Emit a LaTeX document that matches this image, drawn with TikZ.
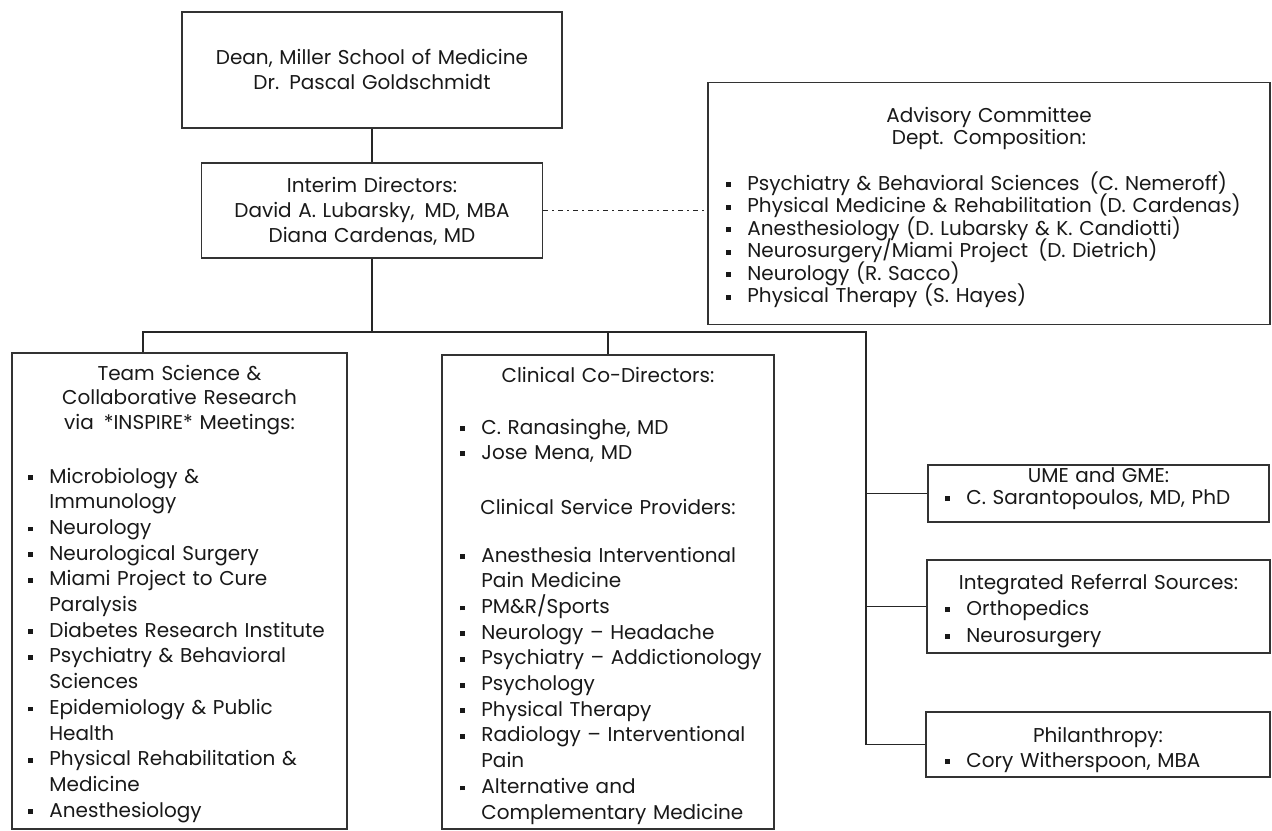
\documentclass[tikz,border=0pt]{standalone}
\usepackage{fontspec}
\setmainfont{Poppins}
\newcommand\bul{\makebox[10.5pt][l]{\raisebox{1.5pt}{\rule{2.4pt}{2.4pt}}}}
\newcommand\ind{\hspace*{10.5pt}}
\begin{document}
\begin{tikzpicture}[x=0.5pt,y=-0.5pt,
  box/.style={draw=black!80, line width=0.55pt, inner sep=0pt},
  txt/.style={inner sep=0pt, text=black!90, execute at begin node={\lineskiplimit=-50pt\relax}},
  ctr/.style={txt, anchor=base, align=center},
  lft/.style={txt, anchor=base west, align=left},
  conn/.style={draw=black!85, line width=0.6pt},
  dd/.style={draw=black!85, line width=0.6pt, dash pattern=on 2.5pt off 2pt on 1pt off 2pt}]
\fill[white] (0,0) rectangle (1272,830);
\useasboundingbox (0,0) rectangle (1272,830);
% boxes
\node[box, minimum width=190pt, minimum height=58pt] (dean) at (372,70) {};
\node[box, minimum width=170.5pt, minimum height=47.5pt] (interim) at (372,210.5) {};
\node[box, minimum width=281pt, minimum height=121pt] (adv) at (989,203.5) {};
\node[box, minimum width=167.5pt, minimum height=238pt] (left) at (179.5,591) {};
\node[box, minimum width=166pt, minimum height=237pt] (mid) at (608,592) {};
\node[box, minimum width=170.5pt, minimum height=28.5pt] (ume) at (1098.5,493.5) {};
\node[box, minimum width=171.5pt, minimum height=46.5pt] (integ) at (1098.5,606.5) {};
\node[box, minimum width=172pt, minimum height=32.5pt] (phil) at (1098,744.5) {};
% texts
\node[ctr, text width=190pt, font=\fontsize{10}{12.5}\selectfont] (deantxt) at (372,64.5)
  {Dean, Miller School of Medicine\\Dr. Pascal Goldschmidt};
\node[ctr, text width=170pt, font=\fontsize{10}{12.5}\selectfont] (interimtxt) at (372,192)
  {Interim Directors:\\David A. Lubarsky,\enspace MD, MBA\\Diana Cardenas, MD};
\node[ctr, text width=270pt, font=\fontsize{10}{11}\selectfont] (advtitle) at (989,122)
  {Advisory Committee\\Dept. Composition:};
\node[lft, text width=270pt, font=\fontsize{10}{11.25}\selectfont] (advlist) at (726,190)
  {\bul Psychiatry \& Behavioral Sciences\enspace(C. Nemeroff)\\
   \bul Physical Medicine \& Rehabilitation (D. Cardenas)\\
   \bul Anesthesiology (D. Lubarsky \& K. Candiotti)\\
   \bul Neurosurgery/Miami Project\enspace(D. Dietrich)\\
   \bul Neurology (R. Sacco)\\
   \bul Physical Therapy (S. Hayes)};
\node[ctr, text width=165pt, font=\fontsize{10}{12.25}\selectfont] (lefttitle) at (179.5,380)
  {Team Science \&\\Collaborative Research\\via\enspace*INSPIRE* Meetings:};
\node[lft, text width=160pt, font=\fontsize{10}{12.85}\selectfont] (leftlist) at (28,483)
  {\bul Microbiology \&\\
   \ind Immunology\\
   \bul Neurology\\
   \bul Neurological Surgery\\
   \bul Miami Project to Cure\\
   \ind Paralysis\\
   \bul Diabetes Research Institute\\
   \bul Psychiatry \& Behavioral\\
   \ind Sciences\\
   \bul Epidemiology \& Public\\
   \ind Health\\
   \bul Physical Rehabilitation \&\\
   \ind Medicine\\
   \bul Anesthesiology};
\node[ctr, text width=165pt, font=\fontsize{10}{12.5}\selectfont] (midtitle) at (608,382)
  {Clinical Co-Directors:};
\node[lft, text width=160pt, font=\fontsize{10}{12.5}\selectfont] (midlist1) at (460,434)
  {\bul C. Ranasinghe, MD\\
   \bul Jose Mena, MD};
\node[ctr, text width=165pt, font=\fontsize{10}{12.5}\selectfont] (midcsp) at (608,514)
  {Clinical Service Providers:};
\node[lft, text width=160pt, font=\fontsize{10}{12.85}\selectfont] (midlist2) at (460,562)
  {\bul Anesthesia Interventional\\
   \ind Pain Medicine\\
   \bul PM\&R/Sports\\
   \bul Neurology -- Headache\\
   \bul Psychiatry -- Addictionology\\
   \bul Psychology\\
   \bul Physical Therapy\\
   \bul Radiology -- Interventional\\
   \ind Pain\\
   \bul Alternative and\\
   \ind Complementary Medicine};
\node[ctr, text width=170pt, font=\fontsize{10}{11}\selectfont] (umetitle) at (1098.5,482)
  {UME and GME:};
\node[lft, text width=160pt, font=\fontsize{10}{11}\selectfont] (umelist) at (945,504)
  {\bul C. Sarantopoulos, MD, PhD};
\node[ctr, text width=170pt, font=\fontsize{10}{13.5}\selectfont] (integtitle) at (1098.5,589)
  {Integrated Referral Sources:};
\node[lft, text width=160pt, font=\fontsize{10}{13.5}\selectfont] (integlist) at (945,615)
  {\bul Orthopedics\\
   \bul Neurosurgery};
\node[ctr, text width=170pt, font=\fontsize{10}{12.5}\selectfont] (philtitle) at (1098,742)
  {Philanthropy:};
\node[lft, text width=160pt, font=\fontsize{10}{12.5}\selectfont] (phillist) at (945,767)
  {\bul Cory Witherspoon, MBA};
% connectors
\coordinate (bus) at (372,332);
\coordinate (bl) at (143,332);
\coordinate (br) at (866,332);
\draw[conn] (dean.south) -- (interim.north);
\draw[conn] (interim.south) -- (bus);
\draw[conn] (bl |- left.north) -- (bl) -- (br) -- (br |- phil.west) -- (phil.west);
\draw[conn] (mid.north) -- (mid.north |- bus);
\draw[conn] (br |- ume.west) -- (ume.west);
\draw[conn] (br |- integ.west) -- (integ.west);
\draw[dd] (interim.east) -- (interim.east -| adv.west);
\end{tikzpicture}
\end{document}
